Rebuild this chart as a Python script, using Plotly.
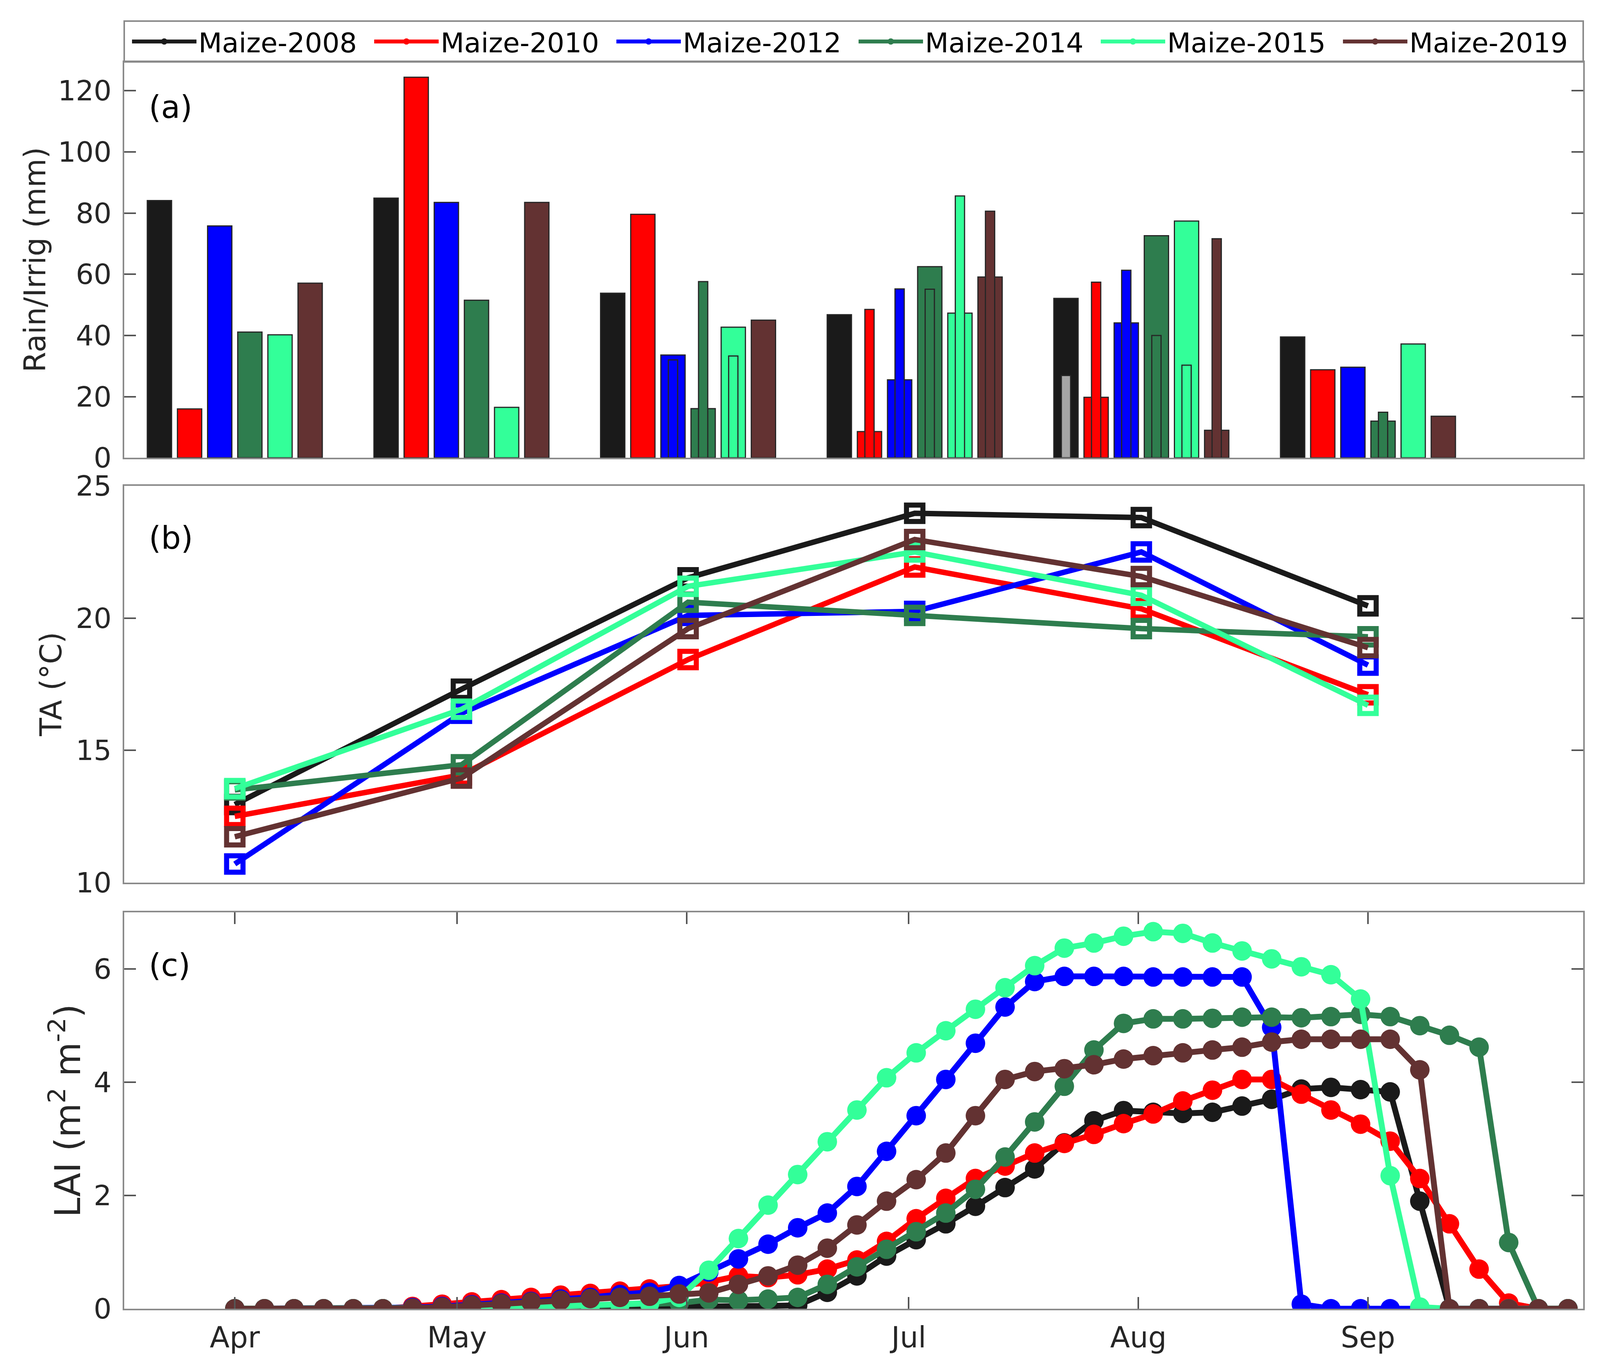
import plotly.graph_objects as go

# ---------------- data ----------------
years = ["Maize-2008", "Maize-2010", "Maize-2012", "Maize-2014", "Maize-2015", "Maize-2019"]
colors = ["#1a1a1a", "#ff0000", "#0000ff", "#2e7d4e", "#33ff99", "#633232"]
narrow_colors = ["#a6a6a6", "#ff0000", "#0000ff", "#2e7d4e", "#33ff99", "#633232"]

months = ["Apr", "May", "Jun", "Jul", "Aug", "Sep"]
month_start_doy = [91, 121, 152, 182, 213, 244]
month_group_pos = [91, 121.6, 152.2, 182.8, 213.4, 244]

# monthly rain (wide bars), mm
rain_2008 = [84.1, 84.9, 53.8, 46.8, 52.1, 39.5]
rain_2010 = [16.0, 124.4, 79.6, 8.6, 19.8, 28.8]
rain_2012 = [75.8, 83.5, 33.6, 25.5, 44.1, 29.6]
rain_2014 = [41.1, 51.5, 16.1, 62.5, 72.6, 12.0]
rain_2015 = [40.2, 16.5, 42.7, 47.3, 77.4, 37.2]
rain_2019 = [57.1, 83.5, 45.0, 59.1, 9.0, 13.6]

# monthly irrigation (narrow bars), mm
irrig_2008 = [None, None, None, None, 26.9, None]
irrig_2010 = [None, None, None, 48.5, 57.4, None]
irrig_2012 = [None, None, 32.0, 55.2, 61.3, None]
irrig_2014 = [None, None, 57.6, 55.1, 40.0, 14.9]
irrig_2015 = [None, None, 33.3, 85.6, 30.3, None]
irrig_2019 = [None, None, None, 80.6, 71.6, None]

# monthly mean air temperature, deg C
ta_2008 = [12.95, 17.31, 21.52, 23.96, 23.80, 20.46]
ta_2010 = [12.50, 14.07, 18.43, 21.93, 20.35, 17.10]
ta_2012 = [10.70, 16.40, 20.10, 20.25, 22.50, 18.22]
ta_2014 = [13.50, 14.45, 20.60, 20.10, 19.60, 19.29]
ta_2015 = [13.55, 16.55, 21.20, 22.50, 20.86, 16.70]
ta_2019 = [11.73, 13.95, 19.60, 22.97, 21.57, 18.88]

# LAI every 4 days (day of year)
lai_doy = [91, 95, 99, 103, 107, 111, 115, 119, 123, 127, 131, 135, 139, 143, 147, 151,
           155, 159, 163, 167, 171, 175, 179, 183, 187, 191, 195, 199, 203, 207, 211, 215,
           219, 223, 227, 231, 235, 239, 243, 247, 251, 255, 259, 263, 267, 271]
lai_2008 = [0, 0, 0, 0, 0, 0, 0, 0, 0, 0, 0.01, 0.01, 0.02, 0.02, 0.03, 0.03,
            0.03, 0.04, 0.05, 0.06, 0.29, 0.58, 0.93, 1.22, 1.50, 1.81, 2.14, 2.47, 2.93, 3.32, 3.50, 3.47,
            3.45, 3.47, 3.58, 3.70, 3.88, 3.91, 3.87, 3.83, 1.90, 0, 0, 0, 0, 0]
lai_2010 = [0, 0, 0, 0, 0, 0, 0.04, 0.08, 0.12, 0.16, 0.20, 0.24, 0.27, 0.31, 0.35, 0.40,
            0.47, 0.58, 0.55, 0.60, 0.70, 0.86, 1.19, 1.59, 1.95, 2.30, 2.52, 2.75, 2.92, 3.08, 3.27, 3.44,
            3.67, 3.86, 4.05, 4.05, 3.79, 3.51, 3.26, 2.96, 2.30, 1.50, 0.70, 0.10, 0, 0]
lai_2012 = [0, 0, 0, 0, 0, 0, 0.02, 0.04, 0.07, 0.10, 0.13, 0.17, 0.20, 0.25, 0.29, 0.41,
            0.65, 0.88, 1.14, 1.43, 1.69, 2.16, 2.78, 3.41, 4.05, 4.69, 5.33, 5.78, 5.87, 5.87, 5.87, 5.86,
            5.86, 5.86, 5.86, 4.97, 0.08, 0, 0, 0, 0, 0, 0, 0, 0, 0]
lai_2014 = [0, 0, 0, 0, 0, 0, 0, 0, 0.01, 0.02, 0.03, 0.04, 0.05, 0.06, 0.08, 0.10,
            0.16, 0.15, 0.17, 0.20, 0.43, 0.74, 1.05, 1.36, 1.69, 2.11, 2.68, 3.30, 3.93, 4.57, 5.04, 5.12,
            5.12, 5.13, 5.15, 5.15, 5.14, 5.16, 5.20, 5.16, 5.00, 4.83, 4.62, 1.17, 0, 0]
lai_2015 = [0, 0, 0, 0, 0, 0, 0, 0, 0.01, 0.02, 0.03, 0.04, 0.06, 0.08, 0.10, 0.20,
            0.68, 1.24, 1.83, 2.37, 2.95, 3.51, 4.08, 4.52, 4.91, 5.29, 5.67, 6.06, 6.37, 6.46, 6.58, 6.66,
            6.63, 6.46, 6.32, 6.18, 6.04, 5.90, 5.47, 2.35, 0.03, 0, 0, 0, 0, 0]
lai_2019 = [0, 0, 0, 0, 0, 0, 0.01, 0.03, 0.06, 0.09, 0.12, 0.15, 0.18, 0.20, 0.22, 0.26,
            0.28, 0.43, 0.58, 0.77, 1.07, 1.48, 1.90, 2.28, 2.75, 3.41, 4.05, 4.19, 4.24, 4.31, 4.41, 4.47,
            4.52, 4.57, 4.62, 4.71, 4.76, 4.76, 4.76, 4.76, 4.22, 0, 0, 0, 0, 0]

rain = [rain_2008, rain_2010, rain_2012, rain_2014, rain_2015, rain_2019]
irrig = [irrig_2008, irrig_2010, irrig_2012, irrig_2014, irrig_2015, irrig_2019]
ta = [ta_2008, ta_2010, ta_2012, ta_2014, ta_2015, ta_2019]
lai = [lai_2008, lai_2010, lai_2012, lai_2014, lai_2015, lai_2019]

# ---------------- style ----------------
W, H = 4102, 3513
FONT = "DejaVu Sans"
TICKFONT = dict(family=FONT, size=72, color="#262626")
AXCOL = "#8a8a8a"
slot = 4.07          # days between bars in a group
wide_w = 3.28
narrow_w = 1.25

fig = go.Figure()

# (a) wide bars
for j in range(6):
    off = (j - 2.5) * slot
    fig.add_trace(go.Bar(
        x=month_group_pos, y=rain[j], width=wide_w, offset=off - wide_w / 2,
        marker=dict(color=colors[j], line=dict(color="#262626", width=3)),
        showlegend=False, xaxis="x", yaxis="y"))
# (a) narrow bars
for j in range(6):
    off = (j - 2.5) * slot
    fig.add_trace(go.Bar(
        x=month_group_pos, y=irrig[j], width=narrow_w, offset=off - narrow_w / 2,
        marker=dict(color=narrow_colors[j], line=dict(color="#262626", width=3)),
        showlegend=False, xaxis="x", yaxis="y"))

# (b) temperature
for j in range(6):
    fig.add_trace(go.Scatter(
        x=month_group_pos, y=ta[j], mode="lines+markers",
        line=dict(color=colors[j], width=14),
        marker=dict(symbol="square-open", size=42, color=colors[j], line=dict(width=13, color=colors[j])),
        showlegend=False, xaxis="x2", yaxis="y2"))

# (c) LAI
for j in range(6):
    fig.add_trace(go.Scatter(
        x=lai_doy, y=lai[j], mode="lines+markers", name=years[j],
        line=dict(color=colors[j], width=15),
        marker=dict(symbol="circle", size=50, color=colors[j]),
        showlegend=True, xaxis="x3", yaxis="y3"))

l, r, t, b = 318, 49, 40, 162
ph = H - t - b
def fy(px):
    return (H - b - px) / ph

xrange_ = [76.07, 273.06]
common_x = dict(range=xrange_, showline=True, linecolor=AXCOL, linewidth=4, mirror=True,
                showgrid=False, zeroline=False)
common_y = dict(showline=True, linecolor=AXCOL, linewidth=4, mirror="ticks", showgrid=False,
                zeroline=False, ticks="inside", ticklen=30, tickwidth=4, tickcolor="#555555",
                tickfont=TICKFONT, ticklabelstandoff=14)

fig.update_layout(
    width=W, height=H,
    margin=dict(l=l, r=r, t=t, b=b),
    plot_bgcolor="white", paper_bgcolor="white",
    barmode="overlay",
    font=dict(family=FONT, color="#000000"),
    xaxis=dict(domain=[0, 1], anchor="y", showticklabels=False, ticks="", **common_x),
    yaxis=dict(domain=[fy(1163), fy(145)], anchor="x", range=[0, 129.4],
               tickvals=[0, 20, 40, 60, 80, 100, 120], **common_y),
    xaxis2=dict(domain=[0, 1], anchor="y2", showticklabels=False, ticks="", **common_x),
    yaxis2=dict(domain=[fy(2255), fy(1235)], anchor="x2", range=[10, 25],
                tickvals=[10, 15, 20, 25], **common_y),
    xaxis3=dict(domain=[0, 1], anchor="y3", tickvals=month_start_doy, ticktext=months,
                ticks="inside", ticklen=30, tickwidth=4, tickcolor="#555555",
                tickfont=dict(family=FONT, size=74, color="#262626"), ticklabelstandoff=6,
                **{**common_x, "mirror": "ticks"}),
    yaxis3=dict(domain=[fy(3351), fy(2332)], anchor="x3", range=[0, 7.0],
                tickvals=[0, 2, 4, 6], **common_y),
    legend=dict(orientation="h", x=0.004, xanchor="left", y=(1 + fy(145)) / 2, yanchor="middle",
                font=dict(family=FONT, size=70, color="#000000"),
                bgcolor="rgba(0,0,0,0)", borderwidth=0, itemwidth=165,
                entrywidth=440, entrywidthmode="pixels", tracegroupgap=0),
)

# legend frame
fig.add_shape(type="rect", xref="paper", yref="paper", x0=0, x1=1, y0=fy(145), y1=1,
              line=dict(color=AXCOL, width=4), fillcolor="rgba(0,0,0,0)", layer="below")

# panel labels
for lab, ax, yy in [("(a)", "", 0.886), ("(b)", "2", 0.869), ("(c)", "3", 0.867)]:
    fig.add_annotation(text=lab, xref=f"x{ax} domain", yref=f"y{ax} domain", x=0.0163, y=yy,
                       xanchor="left", yanchor="middle", showarrow=False,
                       font=dict(family=FONT, size=80, color="#000000"))

# y titles
def fx(px):
    return (px - l) / (W - l - r)

fig.add_annotation(text="Rain/Irrig (mm)", xref="paper", yref="y domain", x=fx(89), y=0.5,
                   textangle=-90, showarrow=False, xanchor="center", yanchor="middle",
                   font=dict(family=FONT, size=76, color="#262626"))
fig.add_annotation(text="TA (°C)", xref="paper", yref="y2 domain", x=fx(131), y=0.5,
                   textangle=-90, showarrow=False, xanchor="center", yanchor="middle",
                   font=dict(family=FONT, size=76, color="#262626"))
fig.add_annotation(text="LAI (m<sup>2</sup> m<sup>-2</sup>)", xref="paper", yref="y3 domain", x=fx(168), y=0.5,
                   textangle=-90, showarrow=False, xanchor="center", yanchor="middle",
                   font=dict(family=FONT, size=90, color="#262626"))

fig.write_html("out.html", config={"displayModeBar": False},
               post_script="document.body.style.margin='0';document.body.style.overflow='hidden';")
